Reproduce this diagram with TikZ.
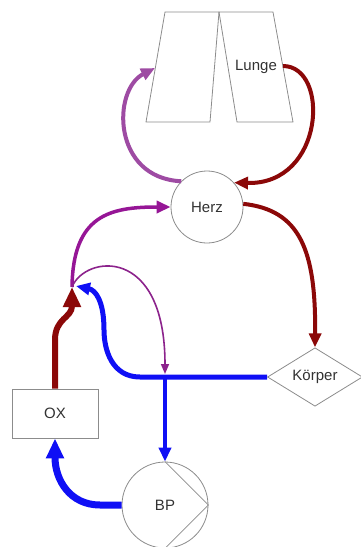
\documentclass[tikz,border=0pt]{standalone}
\usepackage{fontspec}
\setmainfont{Liberation Sans}
\usetikzlibrary{arrows.meta,shapes.geometric}
\definecolor{bordergray}{RGB}{140,140,140}
\definecolor{txtgray}{RGB}{50,50,50}
\definecolor{artred}{RGB}{139,8,8}
\definecolor{lunpurple}{RGB}{158,75,163}
\definecolor{mixpurple}{RGB}{150,22,150}
\definecolor{thinpurple}{RGB}{140,35,140}
\definecolor{venblue}{RGB}{15,15,245}
\tikzset{
  shapebox/.style={draw=bordergray, line width=0.8pt, fill=white, text=txtgray, font=\fontsize{15}{17}\selectfont},
  flow/.style={line width=#1},
  tipM/.style={-{Triangle[length=14pt,width=12pt]}},
  tipL/.style={-{Triangle[length=20pt,width=17pt]}},
  tipS/.style={-{Triangle[length=10pt,width=8pt]}},
}
\begin{document}
\begin{tikzpicture}[x=1pt,y=-1pt]
\useasboundingbox (0,0) rectangle (361,547);
% lung
\coordinate (l1) at (165,12);
\coordinate (l2) at (219,12);
\coordinate (l3) at (210,122);
\coordinate (l4) at (146,122);
\coordinate (r1) at (219,12);
\coordinate (r2) at (273,12);
\coordinate (r3) at (293,122);
\coordinate (r4) at (237,122);
\draw[draw=bordergray, line width=0.8pt] (l1) -- (l2) -- (l3) -- (l4) -- cycle;
\draw[draw=bordergray, line width=0.8pt] (r1) -- (r2) -- (r3) -- (r4) -- cycle;
\node[text=txtgray, font=\fontsize{15}{17}\selectfont] (lunge) at (256,67) {Lunge};
\coordinate (lungout) at (283,66);
\coordinate (lungin) at (155,68);
% nodes
\node[shapebox, circle, minimum size=72pt, inner sep=0pt] (herz) at (207,207) {Herz};
\node[shapebox, diamond, minimum width=95pt, minimum height=48pt, inner sep=0pt] (koerper) at (315,377) {Körper};
\node[shapebox, rectangle, minimum width=86pt, minimum height=49pt] (ox) at (55,413.5) {OX};
\node[shapebox, circle, minimum size=86pt, inner sep=0pt] (bp) at (165,505) {BP};
\draw[draw=bordergray, line width=0.8pt] (bp.north) -- (bp.east) -- (bp.south);
\coordinate (mix) at (72,287);
\coordinate (mixb) at (76,286);
\coordinate (jn) at (165,377);
\coordinate (jnt) at (165,374);
% connectors
\draw[artred, flow=4pt, tipM] (lungout) .. controls (330,66) and (325,185) .. (herz.42);
\draw[lunpurple, flow=4pt, tipM] (herz.135) .. controls (112,178) and (112,90) .. (lungin);
\draw[artred, flow=4pt, tipM] (herz.5) .. controls (300,210) and (316,250) .. (koerper.north);
\draw[artred, flow=6pt, tipL] (ox.north) -- (55,340) .. controls (55,318) and (72,318) .. (mix);
\draw[mixpurple, flow=3.5pt, tipM] (mix) .. controls (73,215) and (110,207) .. (herz.west);
\draw[thinpurple, flow=1.6pt, tipS] (mix) .. controls (85,255) and (165,245) .. (jnt);
\draw[venblue, flow=5pt, tipM] (koerper.west) -- (140,377) .. controls (112,377) and (104,350) .. (104,330) .. controls (104,300) and (95,290) .. (mixb);
\draw[venblue, flow=4pt, tipM] (jn) -- (bp.north);
\draw[venblue, flow=7pt, tipL] (bp.west) -- (100,505) .. controls (70,505) and (55,480) .. (ox.south);
\end{tikzpicture}
\end{document}
